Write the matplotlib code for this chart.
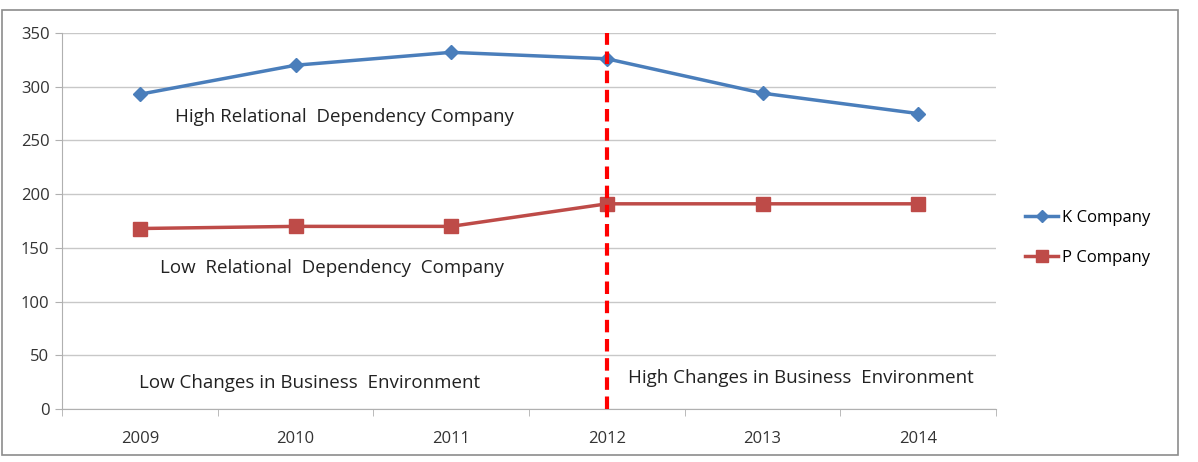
import matplotlib.pyplot as plt
from matplotlib.patches import Rectangle

years = ['2009', '2010', '2011', '2012', '2013', '2014']
k_company = [293, 320, 332, 326, 294, 275]
p_company = [168, 170, 170, 191, 191, 191]

plt.rcParams['font.family'] = ['Open Sans', 'DejaVu Sans']

fig = plt.figure(figsize=(11.98, 4.62), dpi=100)
ax = fig.add_axes([62 / 1198, 1 - 409 / 462, (996 - 62) / 1198, (409 - 33) / 462])

# outer chart border
fig.patches.append(Rectangle((2 / 1198, 1 - 455 / 462), 1176 / 1198, 445 / 462,
                             transform=fig.transFigure, fill=False,
                             edgecolor='#8c8c8c', linewidth=1.2))

x = range(len(years))
ax.plot(x, k_company, color='#4a7ebb', linewidth=2.5, marker='D', markersize=7,
        label='K Company')
ax.plot(x, p_company, color='#be4b48', linewidth=2.5, marker='s', markersize=10,
        label='P Company')
ax.axvline(3, color='#ff0000', linewidth=3, linestyle=(0, (3, 1.6)), zorder=3)

ax.set_xlim(-0.5, 5.5)
ax.set_ylim(0, 350)
ax.set_yticks(range(0, 351, 50))
ax.set_xticks(list(x))
ax.set_xticklabels(years)
ax.set_xticks([i - 0.5 for i in range(7)], minor=True)
ax.tick_params(axis='x', which='major', length=0, pad=16, labelsize=12, colors='#333333')
ax.tick_params(axis='x', which='minor', length=5, color='#b0b0b0', direction='out')
ax.tick_params(axis='y', length=5, color='#b0b0b0', labelsize=12, colors='#333333', pad=4)
ax.yaxis.grid(True, color='#c8c8c8', linewidth=1)
ax.set_axisbelow(True)
for s in ['top', 'right']:
    ax.spines[s].set_visible(False)
for s in ['left', 'bottom']:
    ax.spines[s].set_color('#b0b0b0')

ax.text(1.315, 272, 'High Relational  Dependency Company', fontsize=13.5, ha='center', va='center', color='#222222')
ax.text(1.234, 131, 'Low  Relational  Dependency  Company', fontsize=13.5, ha='center', va='center', color='#222222')
ax.text(1.09, 24, 'Low Changes in Business  Environment', fontsize=13.5, ha='center', va='center', color='#222222')
ax.text(4.244, 29, 'High Changes in Business  Environment', fontsize=13.5, ha='center', va='center', color='#222222')

ax.legend(loc='center left', bbox_to_anchor=(1.015, 0.455), frameon=False, fontsize=12,
          handlelength=2.0, labelspacing=1.4, handletextpad=0.2, markerscale=0.9)

fig.savefig('out.png', dpi=100)
